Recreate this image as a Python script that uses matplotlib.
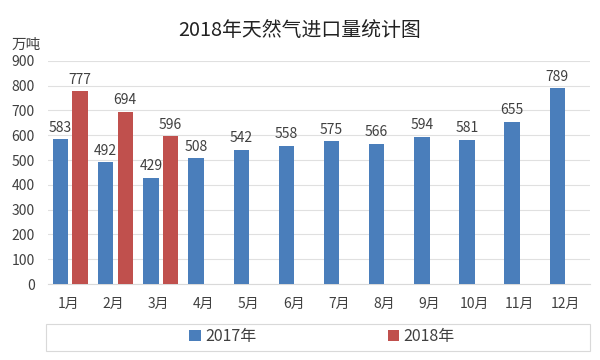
import numpy as np
import matplotlib
matplotlib.use('Agg')
import matplotlib.pyplot as plt
from matplotlib.patches import Rectangle

plt.rcParams['font.family'] = ['Noto Sans CJK SC', 'DejaVu Sans']

# data
months = ['1月', '2月', '3月', '4月', '5月', '6月', '7月', '8月', '9月', '10月', '11月', '12月']
imports_2017 = [583, 492, 429, 508, 542, 558, 575, 566, 594, 581, 655, 789]
imports_2018 = [777, 694, 596]

BLUE = '#4a7ebb'
RED = '#c0504d'
TXT = '#404040'

fig = plt.figure(figsize=(6, 3.6), dpi=100)
ax = fig.add_axes([0.08, 0.211, 0.903, 0.62])

x = np.arange(len(months))
w = 0.34
b17 = ax.bar(x - 0.22, imports_2017, w, color=BLUE, label='2017年', zorder=3)
x18 = np.arange(len(imports_2018))
b18 = ax.bar(x18 + 0.21, imports_2018, w, color=RED, label='2018年', zorder=3)

for bars, vals in ((b17, imports_2017), (b18, imports_2018)):
    for bar, v in zip(bars, vals):
        ax.text(bar.get_x() + bar.get_width() / 2, v + 18, str(v),
                ha='center', va='bottom', fontsize=10, color=TXT)

ax.set_ylim(0, 900)
ax.set_yticks(range(0, 901, 100))
ax.set_xlim(-0.5, len(months) - 0.5)
ax.set_xticks(x - 0.05)
ax.set_xticklabels(months)
ax.tick_params(axis='both', length=0, labelsize=10, colors=TXT)
ax.tick_params(axis='x', pad=9)
ax.tick_params(axis='y', pad=9.5)
ax.grid(axis='y', color='#e0e0e0', linewidth=0.8, zorder=0)
for s in ('top', 'right', 'left'):
    ax.spines[s].set_visible(False)
ax.spines['bottom'].set_color('#d9d9d9')

fig.text(0.5, 0.915, '2018年天然气进口量统计图', ha='center', va='center',
         fontsize=14.3, color='#222222')
fig.text(0.043, 0.875, '万吨', ha='center', va='center', fontsize=10.5, color=TXT)

# legend box
fig.patches.append(Rectangle((0.077, 0.025), 0.906, 0.075, transform=fig.transFigure,
                             fill=False, edgecolor='#d9d9d9', linewidth=0.8))
fig.legend(handles=[b17, b18], loc='center', bbox_to_anchor=(0.537, 0.064), ncol=2,
           frameon=False, fontsize=11.5, handlelength=0.7, handleheight=0.7,
           handletextpad=0.3, columnspacing=8.2, labelcolor=TXT)

fig.savefig('out.png', dpi=100, facecolor='white')
